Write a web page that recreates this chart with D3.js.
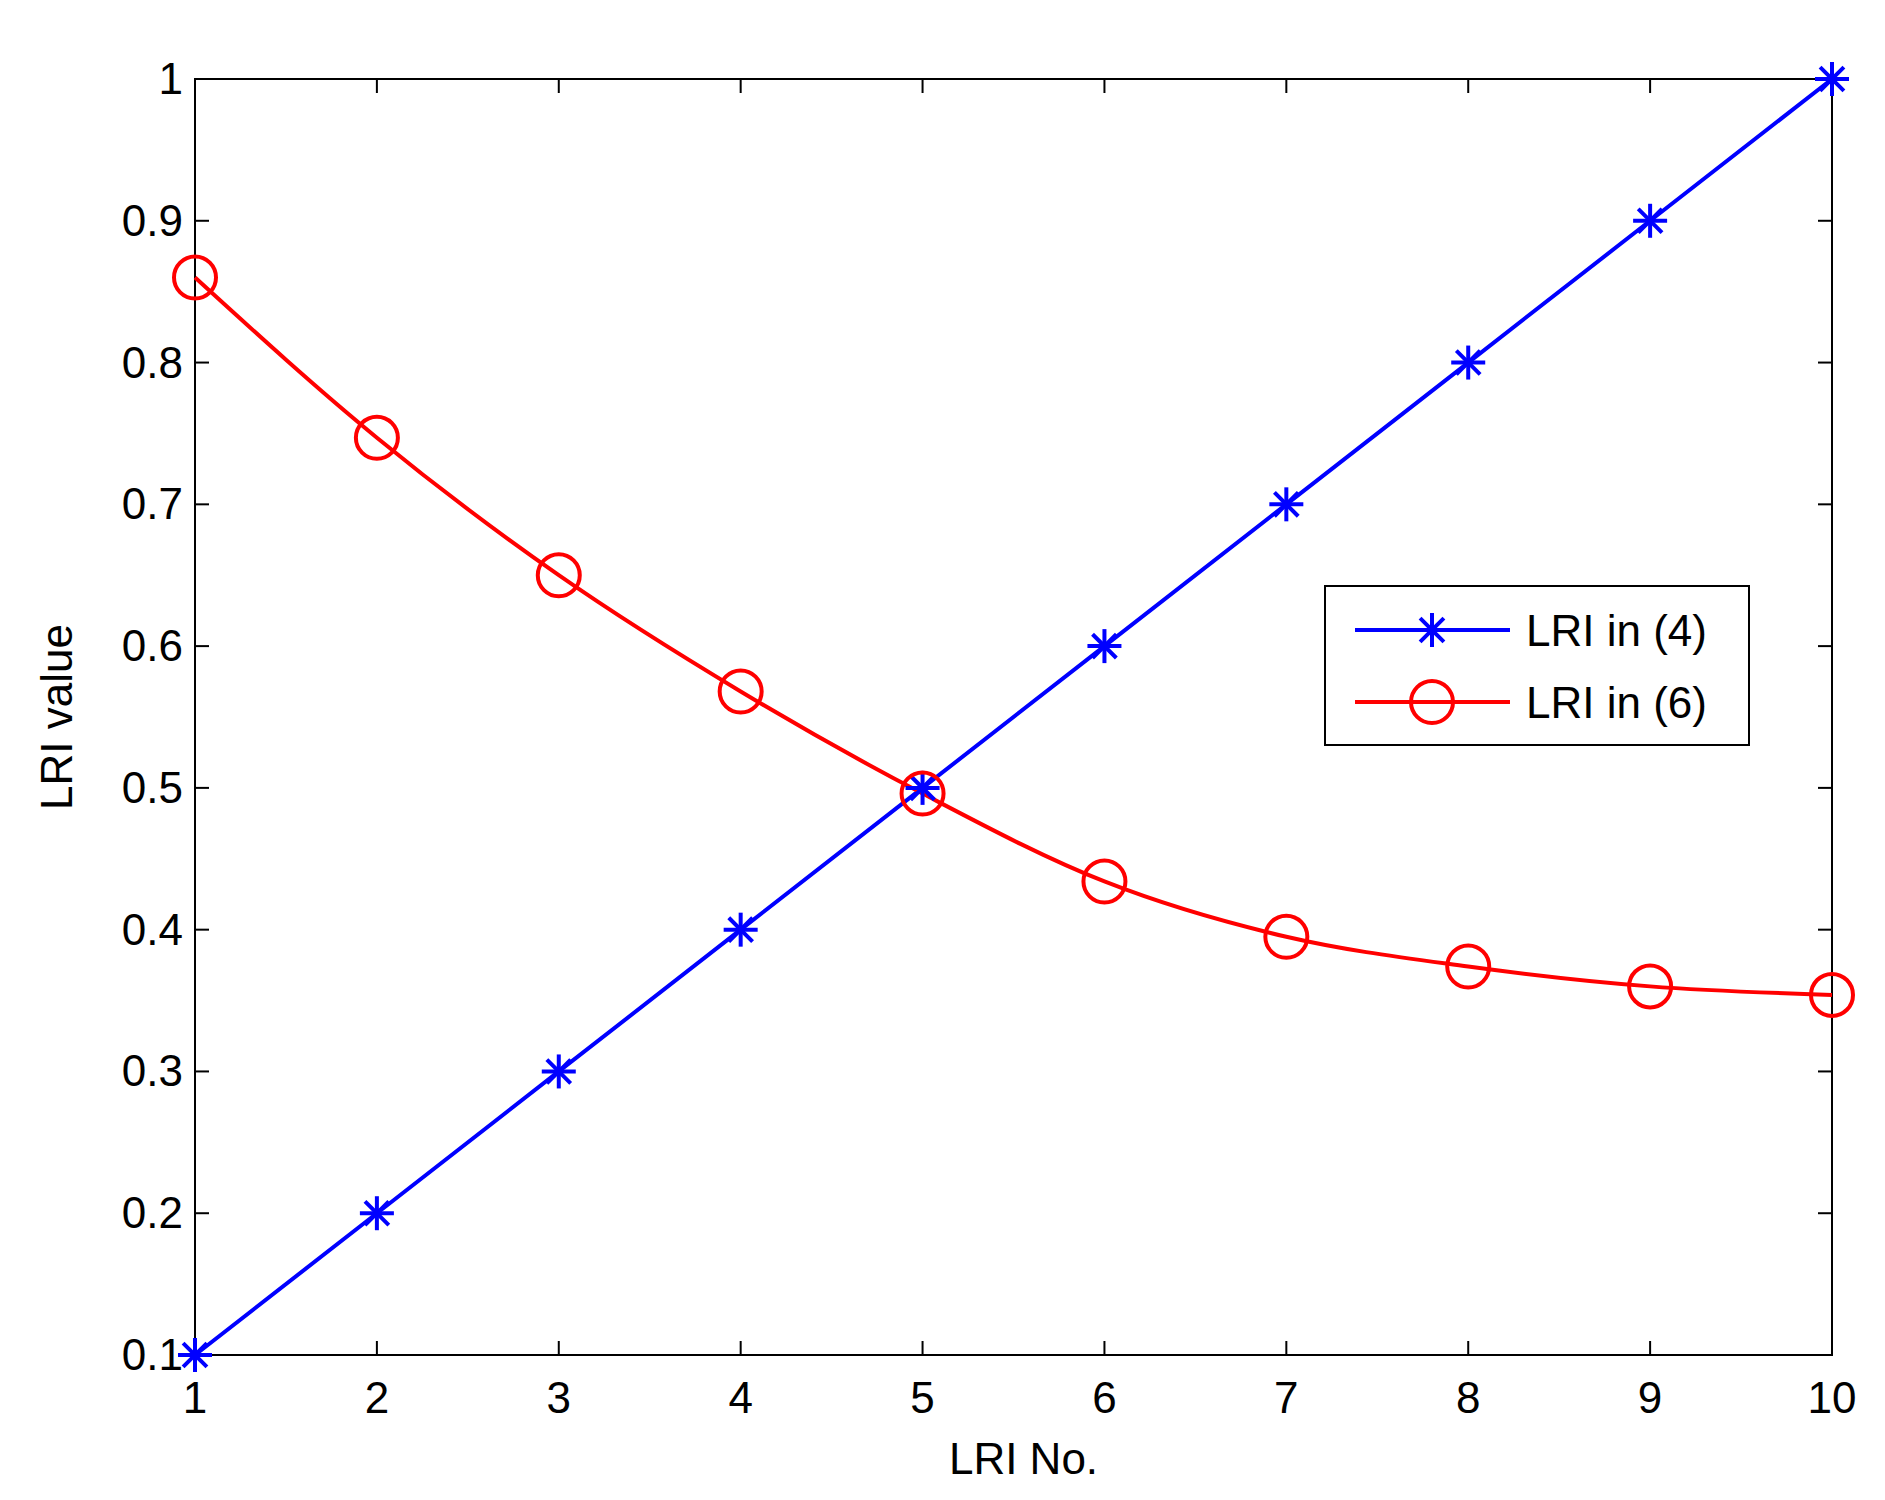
<!DOCTYPE html><html><head><script src="https://d3js.org/d3.v7.min.js"></script>
<style>body{margin:0;background:#fff}</style></head><body><svg id="c" width="1885" height="1500"></svg>
<script>
const xs=[1,2,3,4,5,6,7,8,9,10];
const lri4=[0.1,0.2,0.3,0.4,0.5,0.6,0.7,0.8,0.9,1.0];
const lri6=[0.86,0.747,0.65,0.568,0.496,0.434,0.395,0.374,0.360,0.354];
const yTicks=[0.1,0.2,0.3,0.4,0.5,0.6,0.7,0.8,0.9,1];
const svg=d3.select("#c");
const L=195,R=1832,T=79,B=1355;
const x=d3.scaleLinear().domain([1,10]).range([L,R]);
const y=d3.scaleLinear().domain([0.1,1]).range([B,T]);
const font="Arial, 'Liberation Sans', sans-serif";
svg.append("rect").attr("x",L).attr("y",T).attr("width",R-L).attr("height",B-T).attr("fill","none").attr("stroke","#000").attr("stroke-width",2);
const tl=14;
xs.forEach(v=>{svg.append("line").attr("x1",x(v)).attr("x2",x(v)).attr("y1",B).attr("y2",B-tl).attr("stroke","#000").attr("stroke-width",2);
svg.append("line").attr("x1",x(v)).attr("x2",x(v)).attr("y1",T).attr("y2",T+tl).attr("stroke","#000").attr("stroke-width",2);
svg.append("text").attr("x",x(v)).attr("y",B+58).attr("text-anchor","middle").attr("font-family",font).attr("font-size",44).text(v);});
yTicks.forEach(v=>{svg.append("line").attr("x1",L).attr("x2",L+tl).attr("y1",y(v)).attr("y2",y(v)).attr("stroke","#000").attr("stroke-width",2);
svg.append("line").attr("x1",R).attr("x2",R-tl).attr("y1",y(v)).attr("y2",y(v)).attr("stroke","#000").attr("stroke-width",2);
svg.append("text").attr("x",L-12).attr("y",y(v)+15).attr("text-anchor","end").attr("font-family",font).attr("font-size",44).text(v);});
svg.append("text").attr("x",(L+R)/2+10).attr("y",1474).attr("text-anchor","middle").attr("font-family",font).attr("font-size",44).text("LRI No.");
svg.append("text").attr("transform",`translate(72,${(T+B)/2}) rotate(-90)`).attr("text-anchor","middle").attr("font-family",font).attr("font-size",44).text("LRI value");
const line=d3.line().x(d=>x(d[0])).y(d=>y(d[1]));
function star(g,cx,cy,c){const r=17;[[0,1],[1,0],[0.7,0.7],[0.7,-0.7]].forEach(([a,b])=>g.append("line").attr("x1",cx-a*r).attr("x2",cx+a*r).attr("y1",cy-b*r).attr("y2",cy+b*r).attr("stroke",c).attr("stroke-width",4));}
function circ(g,cx,cy,c){g.append("circle").attr("cx",cx).attr("cy",cy).attr("r",21).attr("fill","none").attr("stroke",c).attr("stroke-width",4);}
svg.append("path").datum(xs.map((v,i)=>[v,lri4[i]])).attr("d",line).attr("fill","none").attr("stroke","#0000ff").attr("stroke-width",4);
svg.append("path").datum(xs.map((v,i)=>[v,lri6[i]])).attr("d",line.curve(d3.curveMonotoneX)).attr("fill","none").attr("stroke","#ff0000").attr("stroke-width",4);
xs.forEach((v,i)=>star(svg,x(v),y(lri4[i]),"#0000ff"));
xs.forEach((v,i)=>circ(svg,x(v),y(lri6[i]),"#ff0000"));
const lg=svg.append("g");
lg.append("rect").attr("x",1325).attr("y",586).attr("width",424).attr("height",159).attr("fill","#fff").attr("stroke","#000").attr("stroke-width",2);
const ent=[["LRI in (4)","#0000ff",star],["LRI in (6)","#ff0000",circ]];
ent.forEach(([t,c,f],i)=>{const yy=630+i*72;
lg.append("line").attr("x1",1355).attr("x2",1510).attr("y1",yy).attr("y2",yy).attr("stroke",c).attr("stroke-width",4);
f(lg,1432,yy,c);
lg.append("text").attr("x",1526).attr("y",yy+16).attr("font-family",font).attr("font-size",44).text(t);});
</script></body></html>
